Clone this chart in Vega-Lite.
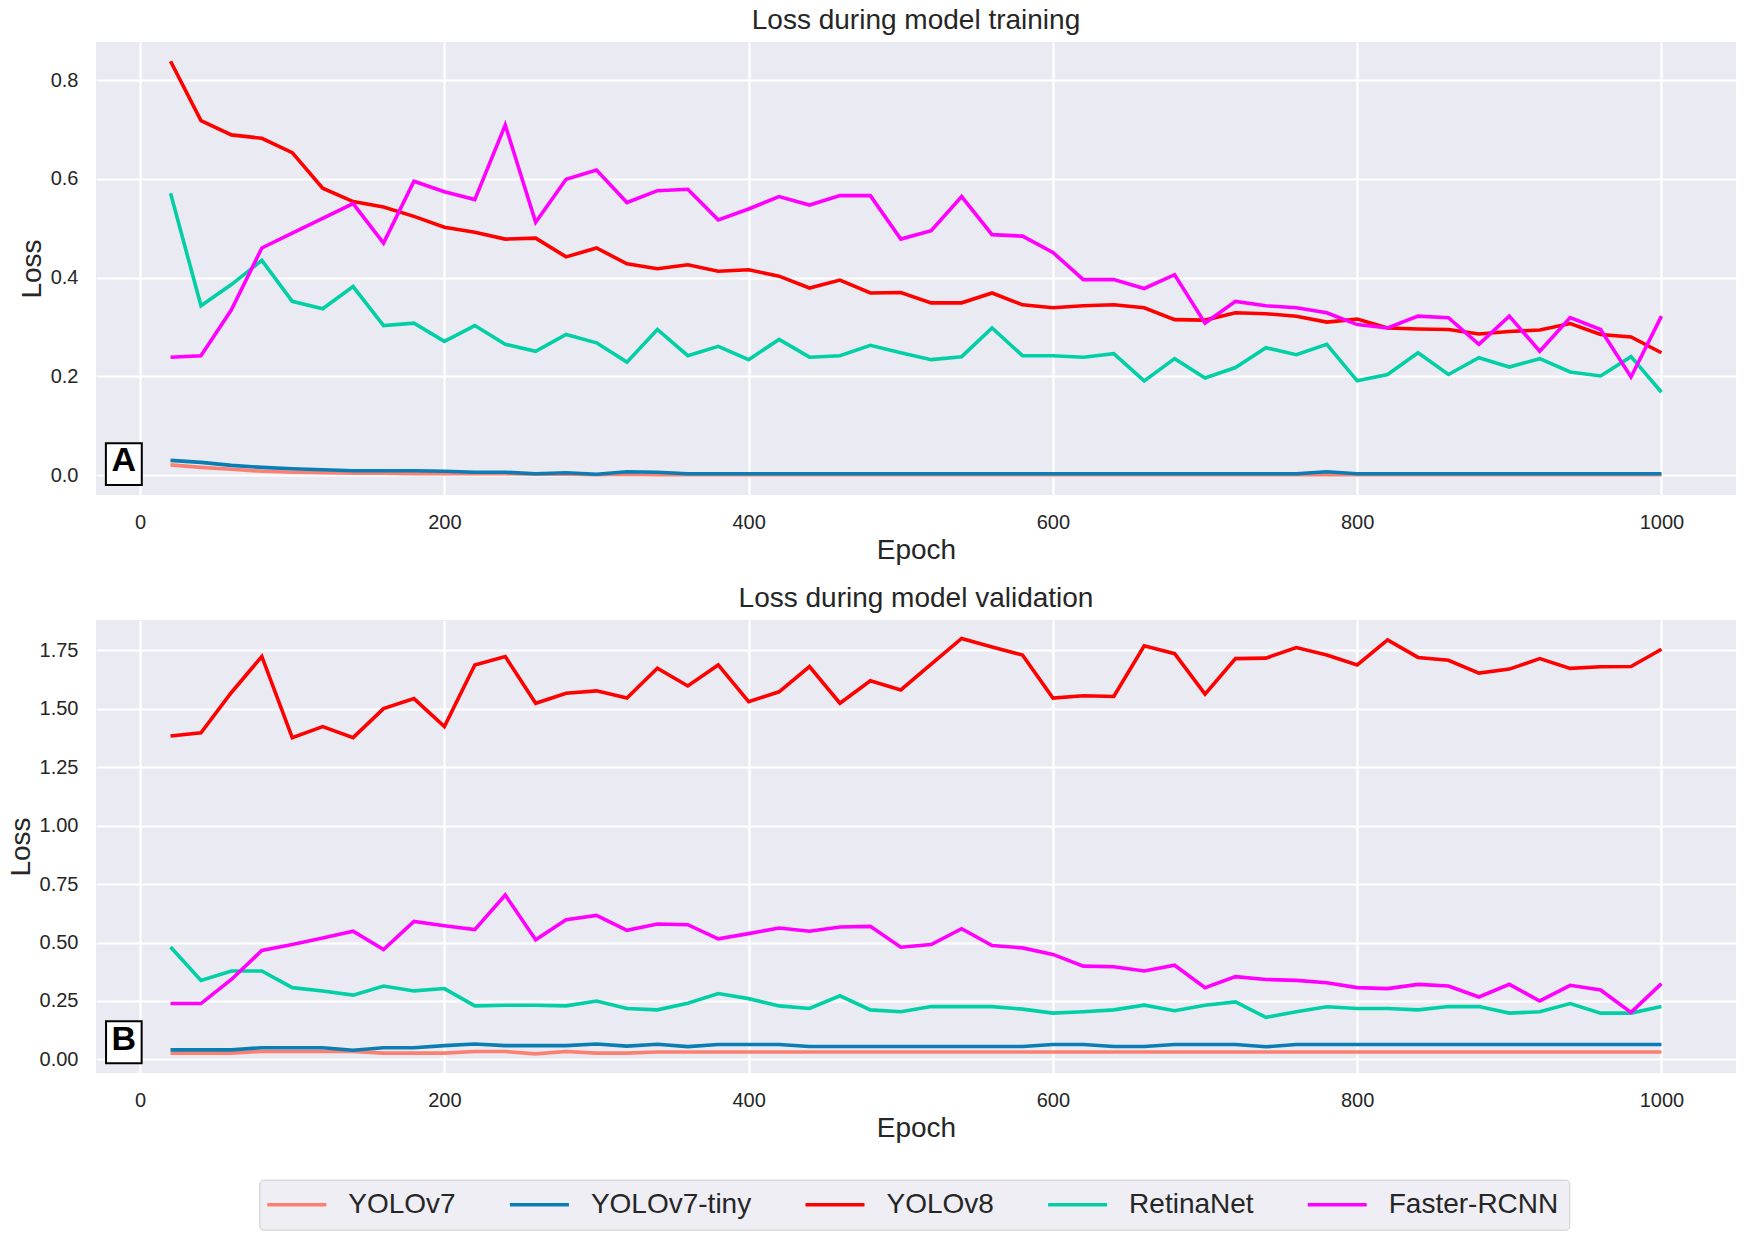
{
"$schema": "https://vega.github.io/schema/vega-lite/v6.json",
"background": "white",
"padding": {"left": 7, "top": 7, "right": 17, "bottom": 10},
"bounds": "flush",
"spacing": 125,
"config": {
  "font": "Liberation Sans",
  "view": {"fill": "#EAEAF2", "stroke": null},
  "axis": {"domain": false, "ticks": false, "tickSize": 0, "gridColor": "#FFFFFF", "gridWidth": 2.2, "gridOpacity": 1,
           "labelFont": "Liberation Sans", "labelFontSize": 20, "labelColor": "#262626",
           "titleFont": "Liberation Sans", "titleFontSize": 28, "titleFontWeight": "normal", "titleColor": "#262626"},
  "axisX": {"labelBaseline": "alphabetic", "labelPadding": 33.5, "titleBaseline": "alphabetic", "titleY": 63.5},
  "axisY": {"labelPadding": 18, "titleBaseline": "alphabetic"},
  "title": {"font": "Liberation Sans", "fontSize": 28, "fontWeight": "normal", "color": "#262626", "baseline": "alphabetic", "offset": 7},
  "legend": {"labelFont": "Liberation Sans"}
},
"datasets": {
  "boxes": [
    {"panel": "A", "x1": -22.5, "x2": 1.1, "y1": -0.0196, "y2": 0.0646, "tx": -10.7, "ty": 0.029},
    {"panel": "B", "x1": -22.4, "x2": 1.0, "y1": -0.016, "y2": 0.163, "tx": -10.8, "ty": 0.082}
  ],
  "train": [
{"model":"YOLOv7","epoch":20,"loss":0.021},{"model":"YOLOv7","epoch":40,"loss":0.016},{"model":"YOLOv7","epoch":60,"loss":0.012},{"model":"YOLOv7","epoch":80,"loss":0.008},{"model":"YOLOv7","epoch":100,"loss":0.006},{"model":"YOLOv7","epoch":120,"loss":0.005},{"model":"YOLOv7","epoch":140,"loss":0.004},{"model":"YOLOv7","epoch":160,"loss":0.004},{"model":"YOLOv7","epoch":180,"loss":0.003},{"model":"YOLOv7","epoch":200,"loss":0.003},
{"model":"YOLOv7","epoch":220,"loss":0.003},{"model":"YOLOv7","epoch":240,"loss":0.003},{"model":"YOLOv7","epoch":260,"loss":0.002},{"model":"YOLOv7","epoch":280,"loss":0.002},{"model":"YOLOv7","epoch":300,"loss":0.001},{"model":"YOLOv7","epoch":320,"loss":0.002},{"model":"YOLOv7","epoch":340,"loss":0.001},{"model":"YOLOv7","epoch":360,"loss":0.001},{"model":"YOLOv7","epoch":380,"loss":0.001},{"model":"YOLOv7","epoch":400,"loss":0.001},
{"model":"YOLOv7","epoch":420,"loss":0.001},{"model":"YOLOv7","epoch":440,"loss":0.001},{"model":"YOLOv7","epoch":460,"loss":0.001},{"model":"YOLOv7","epoch":480,"loss":0.001},{"model":"YOLOv7","epoch":500,"loss":0.001},{"model":"YOLOv7","epoch":520,"loss":0.001},{"model":"YOLOv7","epoch":540,"loss":0.001},{"model":"YOLOv7","epoch":560,"loss":0.001},{"model":"YOLOv7","epoch":580,"loss":0.001},{"model":"YOLOv7","epoch":600,"loss":0.001},
{"model":"YOLOv7","epoch":620,"loss":0.001},{"model":"YOLOv7","epoch":640,"loss":0.001},{"model":"YOLOv7","epoch":660,"loss":0.001},{"model":"YOLOv7","epoch":680,"loss":0.001},{"model":"YOLOv7","epoch":700,"loss":0.001},{"model":"YOLOv7","epoch":720,"loss":0.001},{"model":"YOLOv7","epoch":740,"loss":0.001},{"model":"YOLOv7","epoch":760,"loss":0.001},{"model":"YOLOv7","epoch":780,"loss":0.001},{"model":"YOLOv7","epoch":800,"loss":0.001},
{"model":"YOLOv7","epoch":820,"loss":0.001},{"model":"YOLOv7","epoch":840,"loss":0.001},{"model":"YOLOv7","epoch":860,"loss":0.001},{"model":"YOLOv7","epoch":880,"loss":0.001},{"model":"YOLOv7","epoch":900,"loss":0.001},{"model":"YOLOv7","epoch":920,"loss":0.001},{"model":"YOLOv7","epoch":940,"loss":0.001},{"model":"YOLOv7","epoch":960,"loss":0.001},{"model":"YOLOv7","epoch":980,"loss":0.001},{"model":"YOLOv7","epoch":1000,"loss":0.001},
{"model":"YOLOv7-tiny","epoch":20,"loss":0.030},{"model":"YOLOv7-tiny","epoch":40,"loss":0.026},{"model":"YOLOv7-tiny","epoch":60,"loss":0.020},{"model":"YOLOv7-tiny","epoch":80,"loss":0.016},{"model":"YOLOv7-tiny","epoch":100,"loss":0.013},{"model":"YOLOv7-tiny","epoch":120,"loss":0.011},{"model":"YOLOv7-tiny","epoch":140,"loss":0.009},{"model":"YOLOv7-tiny","epoch":160,"loss":0.009},{"model":"YOLOv7-tiny","epoch":180,"loss":0.009},{"model":"YOLOv7-tiny","epoch":200,"loss":0.008},
{"model":"YOLOv7-tiny","epoch":220,"loss":0.006},{"model":"YOLOv7-tiny","epoch":240,"loss":0.006},{"model":"YOLOv7-tiny","epoch":260,"loss":0.003},{"model":"YOLOv7-tiny","epoch":280,"loss":0.005},{"model":"YOLOv7-tiny","epoch":300,"loss":0.002},{"model":"YOLOv7-tiny","epoch":320,"loss":0.007},{"model":"YOLOv7-tiny","epoch":340,"loss":0.006},{"model":"YOLOv7-tiny","epoch":360,"loss":0.003},{"model":"YOLOv7-tiny","epoch":380,"loss":0.003},{"model":"YOLOv7-tiny","epoch":400,"loss":0.003},
{"model":"YOLOv7-tiny","epoch":420,"loss":0.003},{"model":"YOLOv7-tiny","epoch":440,"loss":0.003},{"model":"YOLOv7-tiny","epoch":460,"loss":0.003},{"model":"YOLOv7-tiny","epoch":480,"loss":0.003},{"model":"YOLOv7-tiny","epoch":500,"loss":0.003},{"model":"YOLOv7-tiny","epoch":520,"loss":0.003},{"model":"YOLOv7-tiny","epoch":540,"loss":0.003},{"model":"YOLOv7-tiny","epoch":560,"loss":0.003},{"model":"YOLOv7-tiny","epoch":580,"loss":0.003},{"model":"YOLOv7-tiny","epoch":600,"loss":0.003},
{"model":"YOLOv7-tiny","epoch":620,"loss":0.003},{"model":"YOLOv7-tiny","epoch":640,"loss":0.003},{"model":"YOLOv7-tiny","epoch":660,"loss":0.003},{"model":"YOLOv7-tiny","epoch":680,"loss":0.003},{"model":"YOLOv7-tiny","epoch":700,"loss":0.003},{"model":"YOLOv7-tiny","epoch":720,"loss":0.003},{"model":"YOLOv7-tiny","epoch":740,"loss":0.003},{"model":"YOLOv7-tiny","epoch":760,"loss":0.003},{"model":"YOLOv7-tiny","epoch":780,"loss":0.007},{"model":"YOLOv7-tiny","epoch":800,"loss":0.003},
{"model":"YOLOv7-tiny","epoch":820,"loss":0.003},{"model":"YOLOv7-tiny","epoch":840,"loss":0.003},{"model":"YOLOv7-tiny","epoch":860,"loss":0.003},{"model":"YOLOv7-tiny","epoch":880,"loss":0.003},{"model":"YOLOv7-tiny","epoch":900,"loss":0.003},{"model":"YOLOv7-tiny","epoch":920,"loss":0.003},{"model":"YOLOv7-tiny","epoch":940,"loss":0.003},{"model":"YOLOv7-tiny","epoch":960,"loss":0.003},{"model":"YOLOv7-tiny","epoch":980,"loss":0.003},{"model":"YOLOv7-tiny","epoch":1000,"loss":0.003},
{"model":"YOLOv8","epoch":20,"loss":0.838},{"model":"YOLOv8","epoch":40,"loss":0.718},{"model":"YOLOv8","epoch":60,"loss":0.689},{"model":"YOLOv8","epoch":80,"loss":0.682},{"model":"YOLOv8","epoch":100,"loss":0.653},{"model":"YOLOv8","epoch":120,"loss":0.581},{"model":"YOLOv8","epoch":140,"loss":0.554},{"model":"YOLOv8","epoch":160,"loss":0.543},{"model":"YOLOv8","epoch":180,"loss":0.524},{"model":"YOLOv8","epoch":200,"loss":0.502},
{"model":"YOLOv8","epoch":220,"loss":0.492},{"model":"YOLOv8","epoch":240,"loss":0.478},{"model":"YOLOv8","epoch":260,"loss":0.480},{"model":"YOLOv8","epoch":280,"loss":0.442},{"model":"YOLOv8","epoch":300,"loss":0.460},{"model":"YOLOv8","epoch":320,"loss":0.428},{"model":"YOLOv8","epoch":340,"loss":0.418},{"model":"YOLOv8","epoch":360,"loss":0.426},{"model":"YOLOv8","epoch":380,"loss":0.413},{"model":"YOLOv8","epoch":400,"loss":0.416},
{"model":"YOLOv8","epoch":420,"loss":0.403},{"model":"YOLOv8","epoch":440,"loss":0.379},{"model":"YOLOv8","epoch":460,"loss":0.395},{"model":"YOLOv8","epoch":480,"loss":0.369},{"model":"YOLOv8","epoch":500,"loss":0.370},{"model":"YOLOv8","epoch":520,"loss":0.349},{"model":"YOLOv8","epoch":540,"loss":0.349},{"model":"YOLOv8","epoch":560,"loss":0.369},{"model":"YOLOv8","epoch":580,"loss":0.345},{"model":"YOLOv8","epoch":600,"loss":0.339},
{"model":"YOLOv8","epoch":620,"loss":0.343},{"model":"YOLOv8","epoch":640,"loss":0.345},{"model":"YOLOv8","epoch":660,"loss":0.339},{"model":"YOLOv8","epoch":680,"loss":0.315},{"model":"YOLOv8","epoch":700,"loss":0.314},{"model":"YOLOv8","epoch":720,"loss":0.329},{"model":"YOLOv8","epoch":740,"loss":0.327},{"model":"YOLOv8","epoch":760,"loss":0.322},{"model":"YOLOv8","epoch":780,"loss":0.310},{"model":"YOLOv8","epoch":800,"loss":0.316},
{"model":"YOLOv8","epoch":820,"loss":0.298},{"model":"YOLOv8","epoch":840,"loss":0.296},{"model":"YOLOv8","epoch":860,"loss":0.295},{"model":"YOLOv8","epoch":880,"loss":0.286},{"model":"YOLOv8","epoch":900,"loss":0.291},{"model":"YOLOv8","epoch":920,"loss":0.294},{"model":"YOLOv8","epoch":940,"loss":0.307},{"model":"YOLOv8","epoch":960,"loss":0.285},{"model":"YOLOv8","epoch":980,"loss":0.280},{"model":"YOLOv8","epoch":1000,"loss":0.248},
{"model":"RetinaNet","epoch":20,"loss":0.571},{"model":"RetinaNet","epoch":40,"loss":0.343},{"model":"RetinaNet","epoch":60,"loss":0.386},{"model":"RetinaNet","epoch":80,"loss":0.435},{"model":"RetinaNet","epoch":100,"loss":0.352},{"model":"RetinaNet","epoch":120,"loss":0.337},{"model":"RetinaNet","epoch":140,"loss":0.382},{"model":"RetinaNet","epoch":160,"loss":0.303},{"model":"RetinaNet","epoch":180,"loss":0.308},{"model":"RetinaNet","epoch":200,"loss":0.271},
{"model":"RetinaNet","epoch":220,"loss":0.303},{"model":"RetinaNet","epoch":240,"loss":0.265},{"model":"RetinaNet","epoch":260,"loss":0.251},{"model":"RetinaNet","epoch":280,"loss":0.285},{"model":"RetinaNet","epoch":300,"loss":0.268},{"model":"RetinaNet","epoch":320,"loss":0.229},{"model":"RetinaNet","epoch":340,"loss":0.295},{"model":"RetinaNet","epoch":360,"loss":0.242},{"model":"RetinaNet","epoch":380,"loss":0.261},{"model":"RetinaNet","epoch":400,"loss":0.234},
{"model":"RetinaNet","epoch":420,"loss":0.275},{"model":"RetinaNet","epoch":440,"loss":0.239},{"model":"RetinaNet","epoch":460,"loss":0.242},{"model":"RetinaNet","epoch":480,"loss":0.263},{"model":"RetinaNet","epoch":500,"loss":0.248},{"model":"RetinaNet","epoch":520,"loss":0.234},{"model":"RetinaNet","epoch":540,"loss":0.240},{"model":"RetinaNet","epoch":560,"loss":0.298},{"model":"RetinaNet","epoch":580,"loss":0.242},{"model":"RetinaNet","epoch":600,"loss":0.242},
{"model":"RetinaNet","epoch":620,"loss":0.239},{"model":"RetinaNet","epoch":640,"loss":0.246},{"model":"RetinaNet","epoch":660,"loss":0.191},{"model":"RetinaNet","epoch":680,"loss":0.236},{"model":"RetinaNet","epoch":700,"loss":0.197},{"model":"RetinaNet","epoch":720,"loss":0.218},{"model":"RetinaNet","epoch":740,"loss":0.258},{"model":"RetinaNet","epoch":760,"loss":0.244},{"model":"RetinaNet","epoch":780,"loss":0.265},{"model":"RetinaNet","epoch":800,"loss":0.191},
{"model":"RetinaNet","epoch":820,"loss":0.204},{"model":"RetinaNet","epoch":840,"loss":0.248},{"model":"RetinaNet","epoch":860,"loss":0.204},{"model":"RetinaNet","epoch":880,"loss":0.238},{"model":"RetinaNet","epoch":900,"loss":0.219},{"model":"RetinaNet","epoch":920,"loss":0.236},{"model":"RetinaNet","epoch":940,"loss":0.209},{"model":"RetinaNet","epoch":960,"loss":0.201},{"model":"RetinaNet","epoch":980,"loss":0.240},{"model":"RetinaNet","epoch":1000,"loss":0.168},
{"model":"Faster-RCNN","epoch":20,"loss":0.239},{"model":"Faster-RCNN","epoch":40,"loss":0.242},{"model":"Faster-RCNN","epoch":60,"loss":0.335},{"model":"Faster-RCNN","epoch":80,"loss":0.460},{"model":"Faster-RCNN","epoch":100,"loss":0.490},{"model":"Faster-RCNN","epoch":120,"loss":0.520},{"model":"Faster-RCNN","epoch":140,"loss":0.550},{"model":"Faster-RCNN","epoch":160,"loss":0.470},{"model":"Faster-RCNN","epoch":180,"loss":0.595},{"model":"Faster-RCNN","epoch":200,"loss":0.574},
{"model":"Faster-RCNN","epoch":220,"loss":0.558},{"model":"Faster-RCNN","epoch":240,"loss":0.709},{"model":"Faster-RCNN","epoch":260,"loss":0.512},{"model":"Faster-RCNN","epoch":280,"loss":0.599},{"model":"Faster-RCNN","epoch":300,"loss":0.618},{"model":"Faster-RCNN","epoch":320,"loss":0.552},{"model":"Faster-RCNN","epoch":340,"loss":0.576},{"model":"Faster-RCNN","epoch":360,"loss":0.579},{"model":"Faster-RCNN","epoch":380,"loss":0.517},{"model":"Faster-RCNN","epoch":400,"loss":0.539},
{"model":"Faster-RCNN","epoch":420,"loss":0.564},{"model":"Faster-RCNN","epoch":440,"loss":0.547},{"model":"Faster-RCNN","epoch":460,"loss":0.566},{"model":"Faster-RCNN","epoch":480,"loss":0.566},{"model":"Faster-RCNN","epoch":500,"loss":0.478},{"model":"Faster-RCNN","epoch":520,"loss":0.495},{"model":"Faster-RCNN","epoch":540,"loss":0.564},{"model":"Faster-RCNN","epoch":560,"loss":0.487},{"model":"Faster-RCNN","epoch":580,"loss":0.484},{"model":"Faster-RCNN","epoch":600,"loss":0.451},
{"model":"Faster-RCNN","epoch":620,"loss":0.396},{"model":"Faster-RCNN","epoch":640,"loss":0.396},{"model":"Faster-RCNN","epoch":660,"loss":0.378},{"model":"Faster-RCNN","epoch":680,"loss":0.406},{"model":"Faster-RCNN","epoch":700,"loss":0.308},{"model":"Faster-RCNN","epoch":720,"loss":0.352},{"model":"Faster-RCNN","epoch":740,"loss":0.343},{"model":"Faster-RCNN","epoch":760,"loss":0.339},{"model":"Faster-RCNN","epoch":780,"loss":0.329},{"model":"Faster-RCNN","epoch":800,"loss":0.305},
{"model":"Faster-RCNN","epoch":820,"loss":0.298},{"model":"Faster-RCNN","epoch":840,"loss":0.322},{"model":"Faster-RCNN","epoch":860,"loss":0.319},{"model":"Faster-RCNN","epoch":880,"loss":0.265},{"model":"Faster-RCNN","epoch":900,"loss":0.322},{"model":"Faster-RCNN","epoch":920,"loss":0.251},{"model":"Faster-RCNN","epoch":940,"loss":0.319},{"model":"Faster-RCNN","epoch":960,"loss":0.295},{"model":"Faster-RCNN","epoch":980,"loss":0.199},{"model":"Faster-RCNN","epoch":1000,"loss":0.322}
  ],
  "val": [
{"model":"YOLOv7","epoch":20,"loss":0.027},{"model":"YOLOv7","epoch":40,"loss":0.027},{"model":"YOLOv7","epoch":60,"loss":0.027},{"model":"YOLOv7","epoch":80,"loss":0.034},{"model":"YOLOv7","epoch":100,"loss":0.034},{"model":"YOLOv7","epoch":120,"loss":0.034},{"model":"YOLOv7","epoch":140,"loss":0.034},{"model":"YOLOv7","epoch":160,"loss":0.027},{"model":"YOLOv7","epoch":180,"loss":0.027},{"model":"YOLOv7","epoch":200,"loss":0.027},
{"model":"YOLOv7","epoch":220,"loss":0.034},{"model":"YOLOv7","epoch":240,"loss":0.034},{"model":"YOLOv7","epoch":260,"loss":0.024},{"model":"YOLOv7","epoch":280,"loss":0.034},{"model":"YOLOv7","epoch":300,"loss":0.027},{"model":"YOLOv7","epoch":320,"loss":0.027},{"model":"YOLOv7","epoch":340,"loss":0.032},{"model":"YOLOv7","epoch":360,"loss":0.032},{"model":"YOLOv7","epoch":380,"loss":0.032},{"model":"YOLOv7","epoch":400,"loss":0.032},
{"model":"YOLOv7","epoch":420,"loss":0.032},{"model":"YOLOv7","epoch":440,"loss":0.032},{"model":"YOLOv7","epoch":460,"loss":0.032},{"model":"YOLOv7","epoch":480,"loss":0.032},{"model":"YOLOv7","epoch":500,"loss":0.032},{"model":"YOLOv7","epoch":520,"loss":0.032},{"model":"YOLOv7","epoch":540,"loss":0.032},{"model":"YOLOv7","epoch":560,"loss":0.032},{"model":"YOLOv7","epoch":580,"loss":0.032},{"model":"YOLOv7","epoch":600,"loss":0.032},
{"model":"YOLOv7","epoch":620,"loss":0.032},{"model":"YOLOv7","epoch":640,"loss":0.032},{"model":"YOLOv7","epoch":660,"loss":0.032},{"model":"YOLOv7","epoch":680,"loss":0.032},{"model":"YOLOv7","epoch":700,"loss":0.032},{"model":"YOLOv7","epoch":720,"loss":0.032},{"model":"YOLOv7","epoch":740,"loss":0.032},{"model":"YOLOv7","epoch":760,"loss":0.032},{"model":"YOLOv7","epoch":780,"loss":0.032},{"model":"YOLOv7","epoch":800,"loss":0.032},
{"model":"YOLOv7","epoch":820,"loss":0.032},{"model":"YOLOv7","epoch":840,"loss":0.032},{"model":"YOLOv7","epoch":860,"loss":0.032},{"model":"YOLOv7","epoch":880,"loss":0.032},{"model":"YOLOv7","epoch":900,"loss":0.032},{"model":"YOLOv7","epoch":920,"loss":0.032},{"model":"YOLOv7","epoch":940,"loss":0.032},{"model":"YOLOv7","epoch":960,"loss":0.032},{"model":"YOLOv7","epoch":980,"loss":0.032},{"model":"YOLOv7","epoch":1000,"loss":0.032},
{"model":"YOLOv7-tiny","epoch":20,"loss":0.041},{"model":"YOLOv7-tiny","epoch":40,"loss":0.041},{"model":"YOLOv7-tiny","epoch":60,"loss":0.041},{"model":"YOLOv7-tiny","epoch":80,"loss":0.050},{"model":"YOLOv7-tiny","epoch":100,"loss":0.050},{"model":"YOLOv7-tiny","epoch":120,"loss":0.050},{"model":"YOLOv7-tiny","epoch":140,"loss":0.039},{"model":"YOLOv7-tiny","epoch":160,"loss":0.050},{"model":"YOLOv7-tiny","epoch":180,"loss":0.050},{"model":"YOLOv7-tiny","epoch":200,"loss":0.059},
{"model":"YOLOv7-tiny","epoch":220,"loss":0.066},{"model":"YOLOv7-tiny","epoch":240,"loss":0.059},{"model":"YOLOv7-tiny","epoch":260,"loss":0.059},{"model":"YOLOv7-tiny","epoch":280,"loss":0.059},{"model":"YOLOv7-tiny","epoch":300,"loss":0.066},{"model":"YOLOv7-tiny","epoch":320,"loss":0.057},{"model":"YOLOv7-tiny","epoch":340,"loss":0.065},{"model":"YOLOv7-tiny","epoch":360,"loss":0.055},{"model":"YOLOv7-tiny","epoch":380,"loss":0.064},{"model":"YOLOv7-tiny","epoch":400,"loss":0.064},
{"model":"YOLOv7-tiny","epoch":420,"loss":0.064},{"model":"YOLOv7-tiny","epoch":440,"loss":0.055},{"model":"YOLOv7-tiny","epoch":460,"loss":0.055},{"model":"YOLOv7-tiny","epoch":480,"loss":0.055},{"model":"YOLOv7-tiny","epoch":500,"loss":0.055},{"model":"YOLOv7-tiny","epoch":520,"loss":0.055},{"model":"YOLOv7-tiny","epoch":540,"loss":0.055},{"model":"YOLOv7-tiny","epoch":560,"loss":0.055},{"model":"YOLOv7-tiny","epoch":580,"loss":0.055},{"model":"YOLOv7-tiny","epoch":600,"loss":0.064},
{"model":"YOLOv7-tiny","epoch":620,"loss":0.064},{"model":"YOLOv7-tiny","epoch":640,"loss":0.055},{"model":"YOLOv7-tiny","epoch":660,"loss":0.055},{"model":"YOLOv7-tiny","epoch":680,"loss":0.064},{"model":"YOLOv7-tiny","epoch":700,"loss":0.064},{"model":"YOLOv7-tiny","epoch":720,"loss":0.064},{"model":"YOLOv7-tiny","epoch":740,"loss":0.054},{"model":"YOLOv7-tiny","epoch":760,"loss":0.064},{"model":"YOLOv7-tiny","epoch":780,"loss":0.064},{"model":"YOLOv7-tiny","epoch":800,"loss":0.064},
{"model":"YOLOv7-tiny","epoch":820,"loss":0.064},{"model":"YOLOv7-tiny","epoch":840,"loss":0.064},{"model":"YOLOv7-tiny","epoch":860,"loss":0.064},{"model":"YOLOv7-tiny","epoch":880,"loss":0.064},{"model":"YOLOv7-tiny","epoch":900,"loss":0.064},{"model":"YOLOv7-tiny","epoch":920,"loss":0.064},{"model":"YOLOv7-tiny","epoch":940,"loss":0.064},{"model":"YOLOv7-tiny","epoch":960,"loss":0.064},{"model":"YOLOv7-tiny","epoch":980,"loss":0.064},{"model":"YOLOv7-tiny","epoch":1000,"loss":0.064},
{"model":"YOLOv8","epoch":20,"loss":1.383},{"model":"YOLOv8","epoch":40,"loss":1.397},{"model":"YOLOv8","epoch":60,"loss":1.569},{"model":"YOLOv8","epoch":80,"loss":1.723},{"model":"YOLOv8","epoch":100,"loss":1.376},{"model":"YOLOv8","epoch":120,"loss":1.423},{"model":"YOLOv8","epoch":140,"loss":1.376},{"model":"YOLOv8","epoch":160,"loss":1.500},{"model":"YOLOv8","epoch":180,"loss":1.543},{"model":"YOLOv8","epoch":200,"loss":1.423},
{"model":"YOLOv8","epoch":220,"loss":1.687},{"model":"YOLOv8","epoch":240,"loss":1.723},{"model":"YOLOv8","epoch":260,"loss":1.523},{"model":"YOLOv8","epoch":280,"loss":1.566},{"model":"YOLOv8","epoch":300,"loss":1.576},{"model":"YOLOv8","epoch":320,"loss":1.545},{"model":"YOLOv8","epoch":340,"loss":1.673},{"model":"YOLOv8","epoch":360,"loss":1.597},{"model":"YOLOv8","epoch":380,"loss":1.687},{"model":"YOLOv8","epoch":400,"loss":1.530},
{"model":"YOLOv8","epoch":420,"loss":1.572},{"model":"YOLOv8","epoch":440,"loss":1.680},{"model":"YOLOv8","epoch":460,"loss":1.523},{"model":"YOLOv8","epoch":480,"loss":1.619},{"model":"YOLOv8","epoch":500,"loss":1.580},{"model":"YOLOv8","epoch":520,"loss":1.690},{"model":"YOLOv8","epoch":540,"loss":1.800},{"model":"YOLOv8","epoch":560,"loss":1.764},{"model":"YOLOv8","epoch":580,"loss":1.729},{"model":"YOLOv8","epoch":600,"loss":1.545},
{"model":"YOLOv8","epoch":620,"loss":1.555},{"model":"YOLOv8","epoch":640,"loss":1.552},{"model":"YOLOv8","epoch":660,"loss":1.769},{"model":"YOLOv8","epoch":680,"loss":1.735},{"model":"YOLOv8","epoch":700,"loss":1.562},{"model":"YOLOv8","epoch":720,"loss":1.714},{"model":"YOLOv8","epoch":740,"loss":1.716},{"model":"YOLOv8","epoch":760,"loss":1.761},{"model":"YOLOv8","epoch":780,"loss":1.729},{"model":"YOLOv8","epoch":800,"loss":1.687},
{"model":"YOLOv8","epoch":820,"loss":1.794},{"model":"YOLOv8","epoch":840,"loss":1.719},{"model":"YOLOv8","epoch":860,"loss":1.707},{"model":"YOLOv8","epoch":880,"loss":1.652},{"model":"YOLOv8","epoch":900,"loss":1.669},{"model":"YOLOv8","epoch":920,"loss":1.714},{"model":"YOLOv8","epoch":940,"loss":1.672},{"model":"YOLOv8","epoch":960,"loss":1.679},{"model":"YOLOv8","epoch":980,"loss":1.680},{"model":"YOLOv8","epoch":1000,"loss":1.754},
{"model":"RetinaNet","epoch":20,"loss":0.481},{"model":"RetinaNet","epoch":40,"loss":0.338},{"model":"RetinaNet","epoch":60,"loss":0.378},{"model":"RetinaNet","epoch":80,"loss":0.378},{"model":"RetinaNet","epoch":100,"loss":0.307},{"model":"RetinaNet","epoch":120,"loss":0.293},{"model":"RetinaNet","epoch":140,"loss":0.275},{"model":"RetinaNet","epoch":160,"loss":0.314},{"model":"RetinaNet","epoch":180,"loss":0.293},{"model":"RetinaNet","epoch":200,"loss":0.303},
{"model":"RetinaNet","epoch":220,"loss":0.229},{"model":"RetinaNet","epoch":240,"loss":0.232},{"model":"RetinaNet","epoch":260,"loss":0.232},{"model":"RetinaNet","epoch":280,"loss":0.229},{"model":"RetinaNet","epoch":300,"loss":0.250},{"model":"RetinaNet","epoch":320,"loss":0.218},{"model":"RetinaNet","epoch":340,"loss":0.212},{"model":"RetinaNet","epoch":360,"loss":0.240},{"model":"RetinaNet","epoch":380,"loss":0.282},{"model":"RetinaNet","epoch":400,"loss":0.260},
{"model":"RetinaNet","epoch":420,"loss":0.229},{"model":"RetinaNet","epoch":440,"loss":0.218},{"model":"RetinaNet","epoch":460,"loss":0.272},{"model":"RetinaNet","epoch":480,"loss":0.212},{"model":"RetinaNet","epoch":500,"loss":0.204},{"model":"RetinaNet","epoch":520,"loss":0.226},{"model":"RetinaNet","epoch":540,"loss":0.226},{"model":"RetinaNet","epoch":560,"loss":0.226},{"model":"RetinaNet","epoch":580,"loss":0.215},{"model":"RetinaNet","epoch":600,"loss":0.198},
{"model":"RetinaNet","epoch":620,"loss":0.204},{"model":"RetinaNet","epoch":640,"loss":0.212},{"model":"RetinaNet","epoch":660,"loss":0.232},{"model":"RetinaNet","epoch":680,"loss":0.208},{"model":"RetinaNet","epoch":700,"loss":0.232},{"model":"RetinaNet","epoch":720,"loss":0.246},{"model":"RetinaNet","epoch":740,"loss":0.180},{"model":"RetinaNet","epoch":760,"loss":0.204},{"model":"RetinaNet","epoch":780,"loss":0.225},{"model":"RetinaNet","epoch":800,"loss":0.218},
{"model":"RetinaNet","epoch":820,"loss":0.218},{"model":"RetinaNet","epoch":840,"loss":0.212},{"model":"RetinaNet","epoch":860,"loss":0.226},{"model":"RetinaNet","epoch":880,"loss":0.226},{"model":"RetinaNet","epoch":900,"loss":0.198},{"model":"RetinaNet","epoch":920,"loss":0.204},{"model":"RetinaNet","epoch":940,"loss":0.239},{"model":"RetinaNet","epoch":960,"loss":0.198},{"model":"RetinaNet","epoch":980,"loss":0.198},{"model":"RetinaNet","epoch":1000,"loss":0.226},
{"model":"Faster-RCNN","epoch":20,"loss":0.239},{"model":"Faster-RCNN","epoch":40,"loss":0.239},{"model":"Faster-RCNN","epoch":60,"loss":0.342},{"model":"Faster-RCNN","epoch":80,"loss":0.466},{"model":"Faster-RCNN","epoch":100,"loss":0.491},{"model":"Faster-RCNN","epoch":120,"loss":0.519},{"model":"Faster-RCNN","epoch":140,"loss":0.548},{"model":"Faster-RCNN","epoch":160,"loss":0.470},{"model":"Faster-RCNN","epoch":180,"loss":0.590},{"model":"Faster-RCNN","epoch":200,"loss":0.572},
{"model":"Faster-RCNN","epoch":220,"loss":0.555},{"model":"Faster-RCNN","epoch":240,"loss":0.703},{"model":"Faster-RCNN","epoch":260,"loss":0.512},{"model":"Faster-RCNN","epoch":280,"loss":0.597},{"model":"Faster-RCNN","epoch":300,"loss":0.616},{"model":"Faster-RCNN","epoch":320,"loss":0.552},{"model":"Faster-RCNN","epoch":340,"loss":0.579},{"model":"Faster-RCNN","epoch":360,"loss":0.576},{"model":"Faster-RCNN","epoch":380,"loss":0.516},{"model":"Faster-RCNN","epoch":400,"loss":0.538},
{"model":"Faster-RCNN","epoch":420,"loss":0.562},{"model":"Faster-RCNN","epoch":440,"loss":0.548},{"model":"Faster-RCNN","epoch":460,"loss":0.566},{"model":"Faster-RCNN","epoch":480,"loss":0.569},{"model":"Faster-RCNN","epoch":500,"loss":0.480},{"model":"Faster-RCNN","epoch":520,"loss":0.491},{"model":"Faster-RCNN","epoch":540,"loss":0.559},{"model":"Faster-RCNN","epoch":560,"loss":0.487},{"model":"Faster-RCNN","epoch":580,"loss":0.477},{"model":"Faster-RCNN","epoch":600,"loss":0.449},
{"model":"Faster-RCNN","epoch":620,"loss":0.399},{"model":"Faster-RCNN","epoch":640,"loss":0.396},{"model":"Faster-RCNN","epoch":660,"loss":0.378},{"model":"Faster-RCNN","epoch":680,"loss":0.403},{"model":"Faster-RCNN","epoch":700,"loss":0.307},{"model":"Faster-RCNN","epoch":720,"loss":0.354},{"model":"Faster-RCNN","epoch":740,"loss":0.342},{"model":"Faster-RCNN","epoch":760,"loss":0.338},{"model":"Faster-RCNN","epoch":780,"loss":0.328},{"model":"Faster-RCNN","epoch":800,"loss":0.307},
{"model":"Faster-RCNN","epoch":820,"loss":0.303},{"model":"Faster-RCNN","epoch":840,"loss":0.321},{"model":"Faster-RCNN","epoch":860,"loss":0.314},{"model":"Faster-RCNN","epoch":880,"loss":0.267},{"model":"Faster-RCNN","epoch":900,"loss":0.321},{"model":"Faster-RCNN","epoch":920,"loss":0.250},{"model":"Faster-RCNN","epoch":940,"loss":0.317},{"model":"Faster-RCNN","epoch":960,"loss":0.297},{"model":"Faster-RCNN","epoch":980,"loss":0.201},{"model":"Faster-RCNN","epoch":1000,"loss":0.324}
  ]
},
"vconcat": [
  {
    "title": {"text": "Loss during model training"},
    "width": 1640,
    "height": 453,
    "layer": [
      {
        "data": {"name": "train"},
        "mark": {"type": "line", "strokeWidth": 3.6},
        "encoding": {
          "x": {"field": "epoch", "type": "quantitative", "scale": {"domain": [-29, 1049], "nice": false, "zero": false},
                "axis": {"values": [0, 200, 400, 600, 800, 1000], "format": "d", "title": "Epoch"}},
          "y": {"field": "loss", "type": "quantitative", "scale": {"domain": [-0.04, 0.877], "nice": false, "zero": false},
                "axis": {"values": [0, 0.2, 0.4, 0.6, 0.8], "format": ".1f", "title": "Loss", "titleX": -55.7}},
          "color": {"field": "model", "type": "nominal",
                    "scale": {"domain": ["YOLOv7", "YOLOv7-tiny", "YOLOv8", "RetinaNet", "Faster-RCNN"],
                              "range": ["#FA8072", "#0B7DB5", "#FF0000", "#03CFA6", "#FF00FF"]},
                    "legend": {"title": null, "orient": "none", "legendX": 163.3, "legendY": 1137.7, "direction": "horizontal", "columns": 5,
                               "symbolType": "M-1.4233,0H4.575", "symbolSize": 387, "symbolStrokeWidth": 3.5, "symbolOffset": -3,
                               "labelFontSize": 28, "labelColor": "#262626", "labelOffset": 53, "labelLimit": 400,
                               "columnPadding": 46.6, "padding": 11, "fillColor": "#EEEEF4", "strokeColor": "#CCCCCC", "cornerRadius": 4}}
        }
      },
      {
        "data": {"name": "boxes"},
        "transform": [{"filter": "datum.panel === 'A'"}],
        "mark": {"type": "rect", "fill": "white", "stroke": "black", "strokeWidth": 2},
        "encoding": {
          "x": {"field": "x1", "type": "quantitative", "scale": {"domain": [-29, 1049], "nice": false, "zero": false}},
          "x2": {"field": "x2"},
          "y": {"field": "y1", "type": "quantitative", "scale": {"domain": [-0.04, 0.877], "nice": false, "zero": false}},
          "y2": {"field": "y2"}
        }
      },
      {
        "data": {"name": "boxes"},
        "transform": [{"filter": "datum.panel === 'A'"}],
        "mark": {"type": "text", "fontSize": 34, "fontWeight": "bold", "color": "black", "align": "center", "baseline": "middle", "font": "Liberation Sans"},
        "encoding": {
          "x": {"field": "tx", "type": "quantitative", "scale": {"domain": [-29, 1049], "nice": false, "zero": false}},
          "y": {"field": "ty", "type": "quantitative", "scale": {"domain": [-0.04, 0.877], "nice": false, "zero": false}},
          "text": {"field": "panel"}
        }
      }
    ]
  },
  {
    "title": {"text": "Loss during model validation"},
    "width": 1640,
    "height": 453,
    "layer": [
      {
        "data": {"name": "val"},
        "mark": {"type": "line", "strokeWidth": 3.6},
        "encoding": {
          "x": {"field": "epoch", "type": "quantitative", "scale": {"domain": [-29, 1049], "nice": false, "zero": false},
                "axis": {"values": [0, 200, 400, 600, 800, 1000], "format": "d", "title": "Epoch"}},
          "y": {"field": "loss", "type": "quantitative", "scale": {"domain": [-0.058, 1.879], "nice": false, "zero": false},
                "axis": {"values": [0, 0.25, 0.5, 0.75, 1, 1.25, 1.5, 1.75], "format": ".2f", "title": "Loss", "titleX": -67}},
          "color": {"field": "model", "type": "nominal",
                    "scale": {"domain": ["YOLOv7", "YOLOv7-tiny", "YOLOv8", "RetinaNet", "Faster-RCNN"],
                              "range": ["#FA8072", "#0B7DB5", "#FF0000", "#03CFA6", "#FF00FF"]},
                    "legend": {"title": null, "orient": "none", "legendX": 163.3, "legendY": 1137.7, "direction": "horizontal", "columns": 5,
                               "symbolType": "M-1.4233,0H4.575", "symbolSize": 387, "symbolStrokeWidth": 3.5, "symbolOffset": -3,
                               "labelFontSize": 28, "labelColor": "#262626", "labelOffset": 53, "labelLimit": 400,
                               "columnPadding": 46.6, "padding": 11, "fillColor": "#EEEEF4", "strokeColor": "#CCCCCC", "cornerRadius": 4}}
        }
      },
      {
        "data": {"name": "boxes"},
        "transform": [{"filter": "datum.panel === 'B'"}],
        "mark": {"type": "rect", "fill": "white", "stroke": "black", "strokeWidth": 2},
        "encoding": {
          "x": {"field": "x1", "type": "quantitative", "scale": {"domain": [-29, 1049], "nice": false, "zero": false}},
          "x2": {"field": "x2"},
          "y": {"field": "y1", "type": "quantitative", "scale": {"domain": [-0.058, 1.879], "nice": false, "zero": false}},
          "y2": {"field": "y2"}
        }
      },
      {
        "data": {"name": "boxes"},
        "transform": [{"filter": "datum.panel === 'B'"}],
        "mark": {"type": "text", "fontSize": 34, "fontWeight": "bold", "color": "black", "align": "center", "baseline": "middle", "font": "Liberation Sans"},
        "encoding": {
          "x": {"field": "tx", "type": "quantitative", "scale": {"domain": [-29, 1049], "nice": false, "zero": false}},
          "y": {"field": "ty", "type": "quantitative", "scale": {"domain": [-0.058, 1.879], "nice": false, "zero": false}},
          "text": {"field": "panel"}
        }
      }
    ]
  }
]
}
